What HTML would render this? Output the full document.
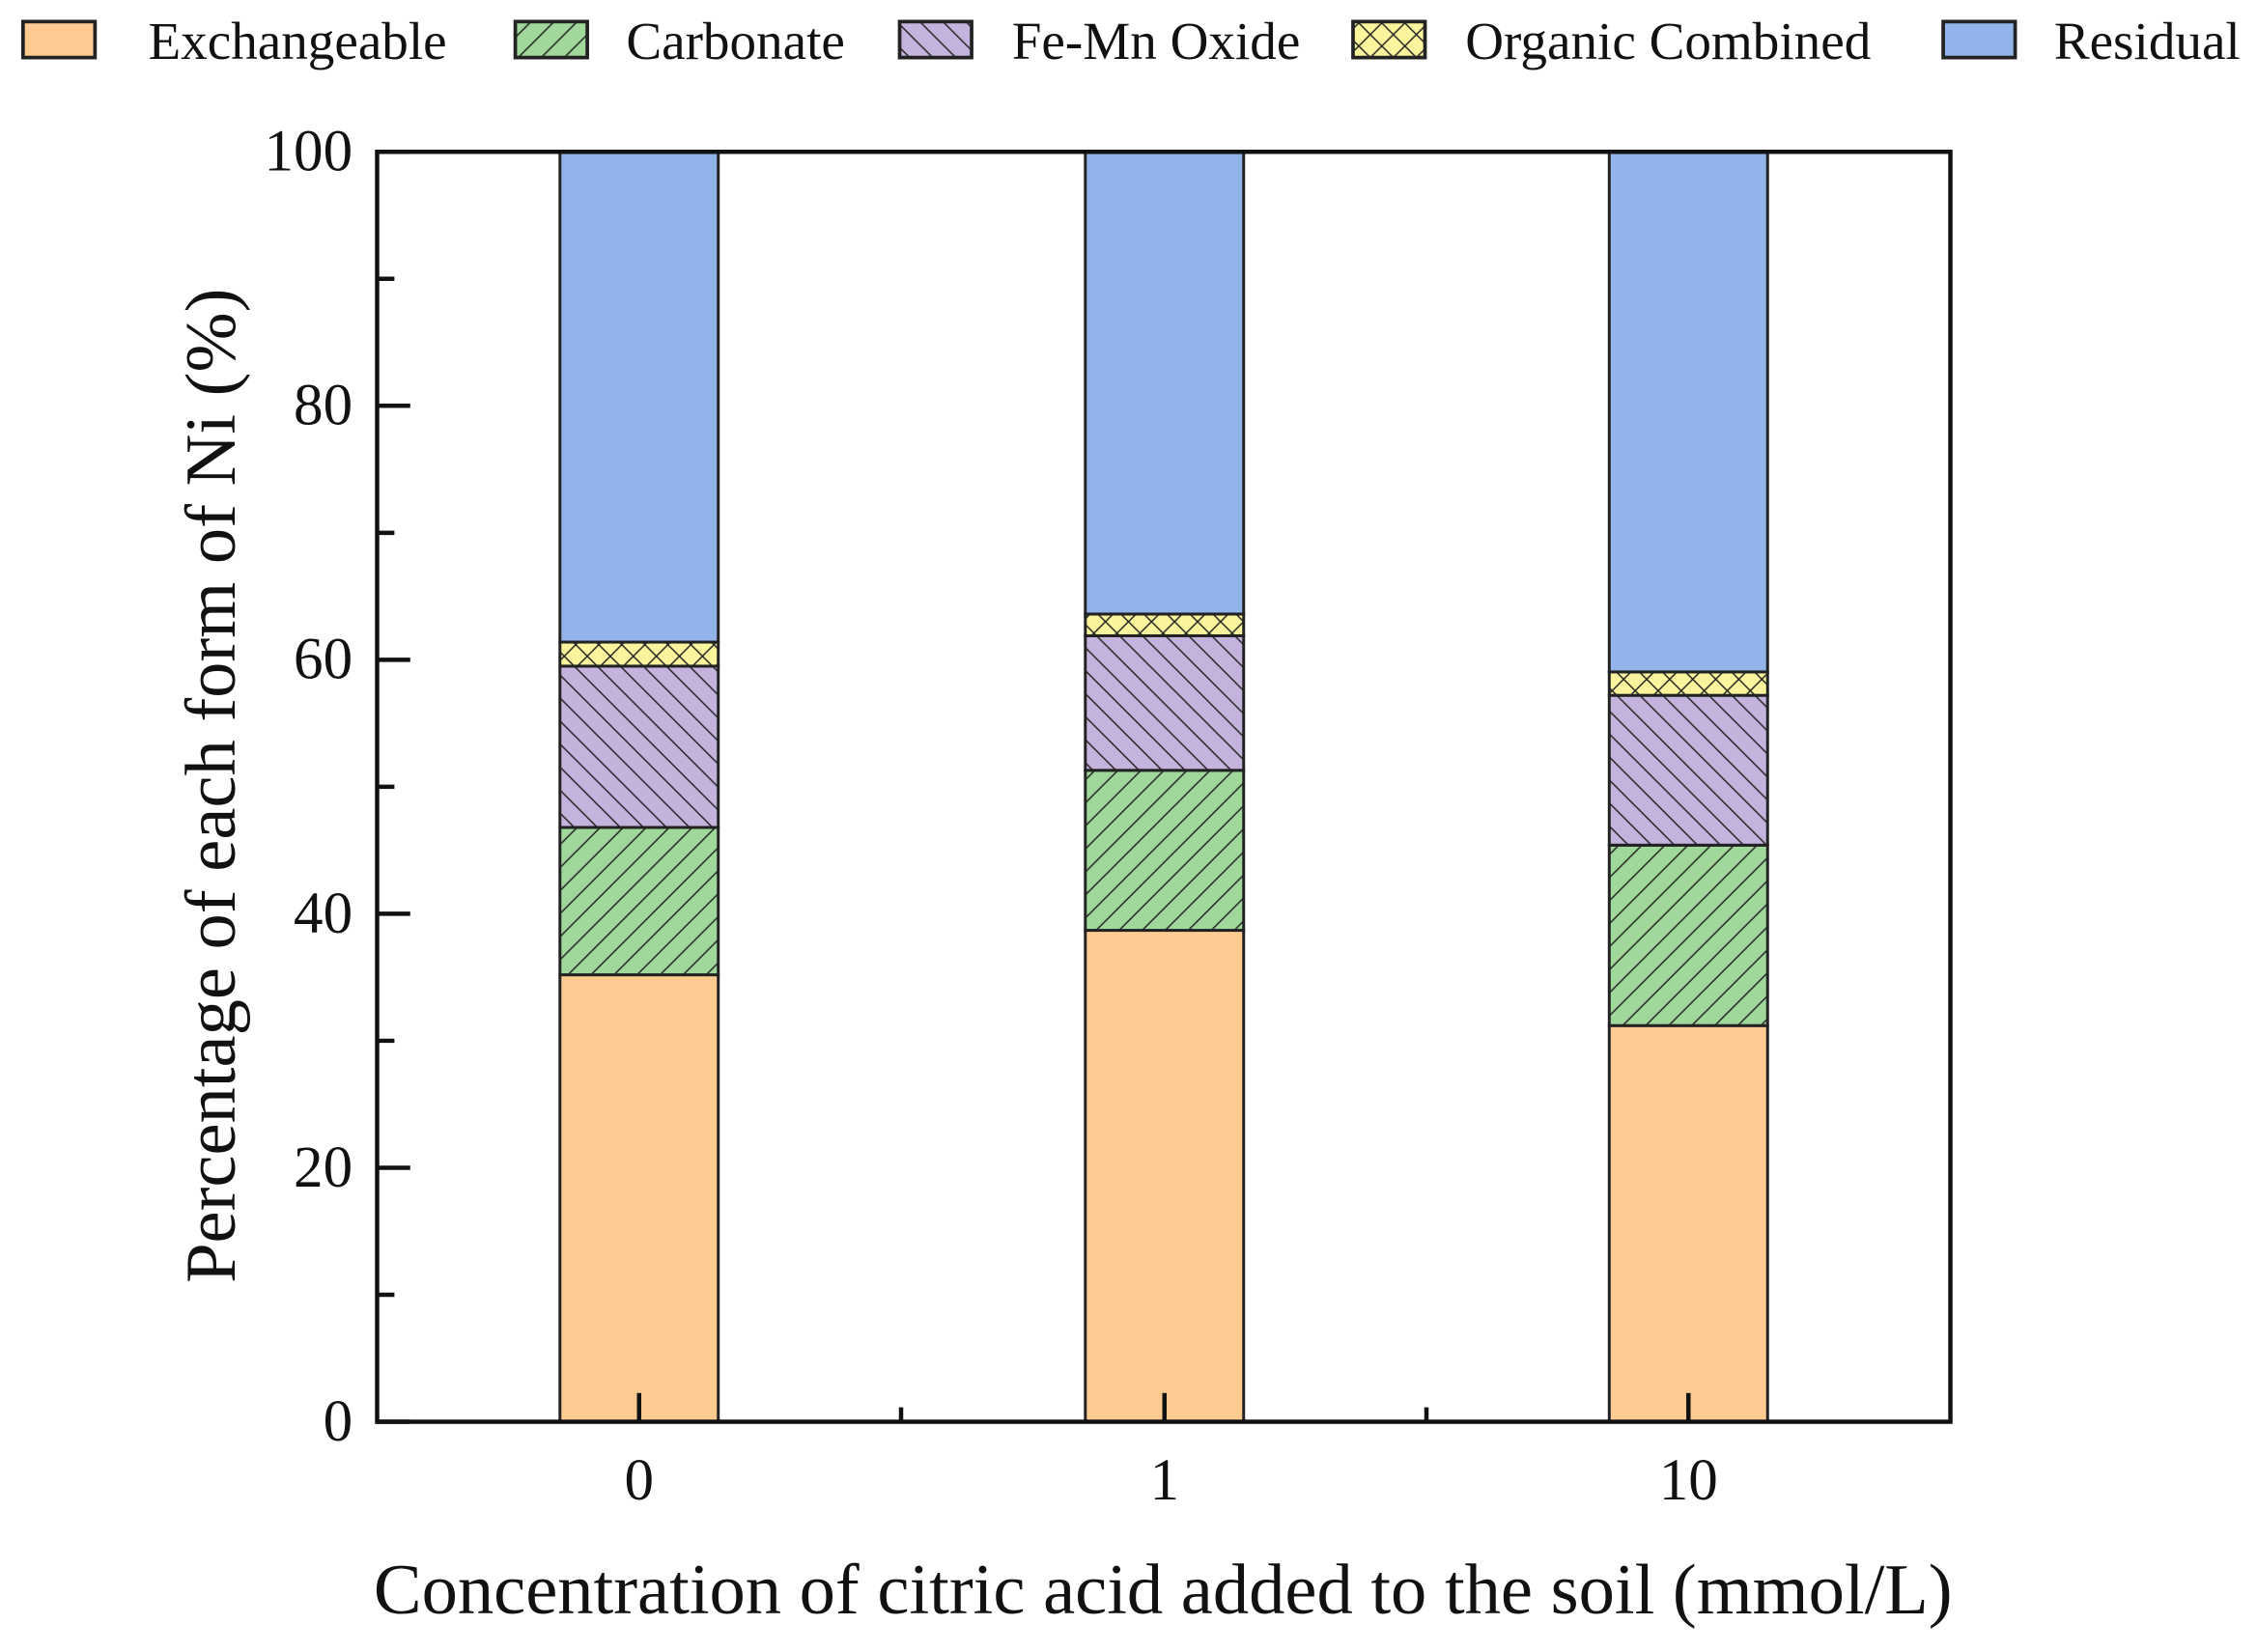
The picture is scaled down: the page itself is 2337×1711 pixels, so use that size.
<!DOCTYPE html>
<html><head><meta charset="utf-8"><style>html,body{margin:0;padding:0;background:#fff}svg{display:block}</style></head>
<body>
<svg width="2337" height="1711" viewBox="0 0 1568 1148" xmlns="http://www.w3.org/2000/svg" font-family="'Liberation Serif', serif">
<defs>
<pattern id="pg" patternUnits="userSpaceOnUse" width="16" height="16">
<rect width="16" height="16" fill="#9FD89A"/><path d="M-4,4 L4,-4 M0,16 L16,0 M12,20 L20,12" stroke="#222" stroke-width="1"/></pattern>
<pattern id="pp" patternUnits="userSpaceOnUse" width="16" height="16">
<rect width="16" height="16" fill="#C4B3DC"/><path d="M-4,12 L4,20 M0,0 L16,16 M12,-4 L20,4" stroke="#222" stroke-width="1"/></pattern>
<pattern id="py" patternUnits="userSpaceOnUse" width="16" height="16">
<rect width="16" height="16" fill="#FAF59C"/><path d="M0,0 L16,16 M16,0 L0,16" stroke="#222" stroke-width="1"/></pattern>
</defs>
<rect width="1568" height="1148" fill="#fff"/>
<g stroke="#222" stroke-width="2.5">
<rect x="16" y="15" width="50" height="25" fill="#FDCB92"/>
<rect x="358" y="15" width="50" height="25" fill="url(#pg)"/>
<rect x="625" y="15" width="50" height="25" fill="url(#pp)"/>
<rect x="940" y="15" width="50" height="25" fill="url(#py)"/>
<rect x="1350" y="15" width="50" height="25" fill="#93B4EA"/>
</g>
<g font-size="37" fill="#111">
<text x="103" y="41">Exchangeable</text>
<text x="435" y="41">Carbonate</text>
<text x="703" y="41">Fe-Mn Oxide</text>
<text x="1018" y="41">Organic Combined</text>
<text x="1427" y="41">Residual</text>
</g>
<g stroke="#222" stroke-width="2">
<rect x="389" y="677.4" width="110" height="310.6" fill="#FDCB92"/>
<rect x="389" y="575.0" width="110" height="102.4" fill="url(#pg)"/>
<rect x="389" y="462.9" width="110" height="112.1" fill="url(#pp)"/>
<rect x="389" y="446.2" width="110" height="16.7" fill="url(#py)"/>
<rect x="389" y="105.5" width="110" height="340.7" fill="#93B4EA"/>

<rect x="754" y="646.5" width="110" height="341.5" fill="#FDCB92"/>
<rect x="754" y="535.3" width="110" height="111.2" fill="url(#pg)"/>
<rect x="754" y="441.8" width="110" height="93.5" fill="url(#pp)"/>
<rect x="754" y="426.7" width="110" height="15.1" fill="url(#py)"/>
<rect x="754" y="105.5" width="110" height="321.2" fill="#93B4EA"/>

<rect x="1118" y="712.7" width="110" height="275.3" fill="#FDCB92"/>
<rect x="1118" y="587.3" width="110" height="125.4" fill="url(#pg)"/>
<rect x="1118" y="483.2" width="110" height="104.1" fill="url(#pp)"/>
<rect x="1118" y="466.9" width="110" height="16.3" fill="url(#py)"/>
<rect x="1118" y="105.5" width="110" height="361.4" fill="#93B4EA"/>
</g>
<rect x="262" y="105.5" width="1093" height="882.5" fill="none" stroke="#111" stroke-width="3"/>
<g stroke="#111" stroke-width="3">
<path d="M262,988h23M262,811.5h23M262,635h23M262,458.5h23M262,282h23M262,105.5h23"/>
<path d="M262,899.75h12M262,723.25h12M262,546.75h12M262,370.25h12M262,193.75h12"/>
<path d="M444,988v-20M809,988v-20M1173,988v-20M626,988v-10M991,988v-10"/>
</g>
<g font-size="41" fill="#111" text-anchor="end">
<text x="245" y="1001">0</text>
<text x="245" y="824.5">20</text>
<text x="245" y="648">40</text>
<text x="245" y="471.5">60</text>
<text x="245" y="295">80</text>
<text x="245" y="118.5">100</text>
</g>
<g font-size="41" fill="#111" text-anchor="middle">
<text x="444" y="1042">0</text>
<text x="809" y="1042">1</text>
<text x="1173" y="1042">10</text>
<text x="808" y="1121" font-size="50">Concentration of citric acid added to the soil (mmol/L)</text>
<text transform="translate(163,546) rotate(-90)" font-size="50">Percentage of each form of Ni (%)</text>
</g>
</svg>
</body></html>
